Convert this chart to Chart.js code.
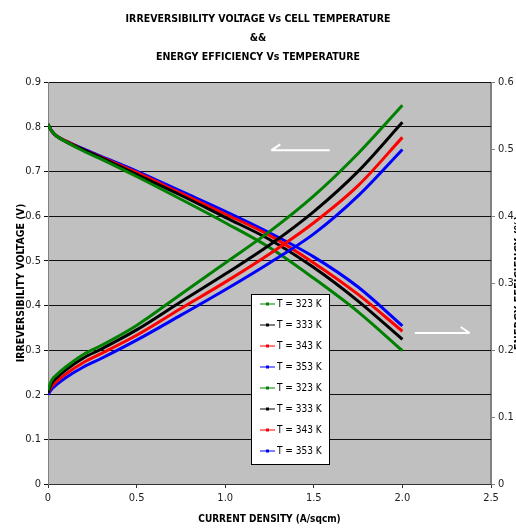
<!DOCTYPE html>
<html>
<head>
<meta charset="utf-8">
<script src="https://cdn.jsdelivr.net/npm/chart.js@4.4.1/dist/chart.umd.min.js"></script>
<style>
  html, body { margin: 0; padding: 0; background: #ffffff; }
  #wrap { width: 516px; height: 529px; position: relative; }
</style>
</head>
<body>
<div id="wrap"><canvas id="chart" width="516" height="529"></canvas></div>
<script>
// Current density values (A/sqcm)
const current = [0, 0.02, 0.05, 0.1, 0.2, 0.3, 0.5, 0.75, 1.0, 1.25, 1.5, 1.75, 2.0];
const tempLabels = ['T = 323 K', 'T = 333 K', 'T = 343 K', 'T = 353 K'];

// Irreversibility voltage (V), left axis
const volt323 = [0.21, 0.232, 0.245, 0.262, 0.29, 0.31, 0.355, 0.425, 0.495, 0.565, 0.645, 0.74, 0.848];
const volt333 = [0.205, 0.225, 0.238, 0.255, 0.282, 0.302, 0.345, 0.408, 0.47, 0.535, 0.61, 0.70, 0.81];
const volt343 = [0.205, 0.218, 0.23, 0.246, 0.272, 0.292, 0.333, 0.393, 0.452, 0.515, 0.585, 0.668, 0.776];
const volt353 = [0.20, 0.212, 0.223, 0.238, 0.262, 0.281, 0.322, 0.378, 0.435, 0.495, 0.56, 0.645, 0.749];

// Energy efficiency, right axis
const eff323 = [0.537, 0.527, 0.519, 0.511, 0.497, 0.485, 0.459, 0.425, 0.39, 0.353, 0.307, 0.257, 0.199];
const eff333 = [0.537, 0.527, 0.519, 0.511, 0.499, 0.487, 0.462, 0.431, 0.398, 0.365, 0.323, 0.273, 0.216];
const eff343 = [0.537, 0.527, 0.519, 0.512, 0.499, 0.488, 0.465, 0.434, 0.403, 0.371, 0.33, 0.283, 0.228];
const eff353 = [0.537, 0.527, 0.519, 0.512, 0.50, 0.489, 0.467, 0.437, 0.407, 0.375, 0.339, 0.294, 0.236];

const colors = ['#008000', '#000000', '#ff0000', '#0000ff'];

// Arrow annotations in data units
const arrows = [
    { x0: 1.26, x1: 1.59, y: 0.747, dir: 'left' },
    { x0: 2.07, x1: 2.38, y: 0.338, dir: 'right' }
];

const FONT = "'Liberation Sans Narrow', 'DejaVu Sans Condensed', 'Liberation Sans', sans-serif";

function toPoints(ys) {
    return current.map((x, i) => ({ x: x, y: ys[i] }));
}

function makeSet(label, ys, color, axis) {
    return {
        label: label,
        data: toPoints(ys),
        borderColor: color,
        backgroundColor: color,
        borderWidth: 3,
        pointRadius: 0,
        cubicInterpolationMode: 'monotone',
        yAxisID: axis
    };
}

const datasets = [
    makeSet(tempLabels[0], volt323, colors[0], 'y'),
    makeSet(tempLabels[1], volt333, colors[1], 'y'),
    makeSet(tempLabels[2], volt343, colors[2], 'y'),
    makeSet(tempLabels[3], volt353, colors[3], 'y'),
    makeSet(tempLabels[0], eff323, colors[0], 'y2'),
    makeSet(tempLabels[1], eff333, colors[1], 'y2'),
    makeSet(tempLabels[2], eff343, colors[2], 'y2'),
    makeSet(tempLabels[3], eff353, colors[3], 'y2')
];

// gray plot area + border
const plotBg = {
    id: 'plotBg',
    beforeDraw(chart) {
        const { ctx, chartArea: a } = chart;
        ctx.save();
        ctx.fillStyle = '#c0c0c0';
        ctx.fillRect(a.left, a.top, a.right - a.left, a.bottom - a.top);
        ctx.strokeStyle = '#808080';
        ctx.lineWidth = 1;
        ctx.strokeRect(a.left + 0.5, a.top + 0.5, a.right - a.left - 1, a.bottom - a.top);
        ctx.restore();
    }
};

// white half-arrows, legend box and clipped right title
const extras = {
    id: 'extras',
    afterDatasetsDraw(chart) {
        const { ctx, scales } = chart;
        ctx.save();
        ctx.strokeStyle = '#ffffff';
        ctx.lineWidth = 2;
        arrows.forEach(a => {
            const x0 = scales.x.getPixelForValue(a.x0);
            const x1 = scales.x.getPixelForValue(a.x1);
            const y = scales.y.getPixelForValue(a.y);
            ctx.beginPath();
            ctx.moveTo(x0, y);
            ctx.lineTo(x1, y);
            if (a.dir === 'left') {
                ctx.moveTo(x0, y);
                ctx.lineTo(x0 + 9, y - 6);
            } else {
                ctx.moveTo(x1, y);
                ctx.lineTo(x1 - 9, y - 6);
            }
            ctx.stroke();
        });

        // legend box
        const bx = 251, by = 294, bw = 78, bh = 170;
        ctx.fillStyle = '#ffffff';
        ctx.fillRect(bx, by, bw, bh);
        ctx.strokeStyle = '#000000';
        ctx.lineWidth = 1;
        ctx.strokeRect(bx + 0.5, by + 0.5, bw, bh);
        ctx.font = '10px ' + FONT;
        ctx.textBaseline = 'middle';
        ctx.textAlign = 'left';
        chart.data.datasets.forEach((ds, i) => {
            const y = by + 10 + i * 21;
            ctx.strokeStyle = ds.borderColor;
            ctx.lineWidth = 1;
            ctx.beginPath();
            ctx.moveTo(bx + 9, y);
            ctx.lineTo(bx + 24, y);
            ctx.stroke();
            ctx.fillStyle = ds.borderColor;
            ctx.fillRect(bx + 15, y - 1.5, 3, 3);
            ctx.fillStyle = '#000000';
            ctx.fillText(ds.label, bx + 26, y);
        });

        // right axis title, partly off the canvas like the original
        const a = chart.chartArea;
        ctx.translate(519, (a.top + a.bottom) / 2);
        ctx.rotate(-Math.PI / 2);
        ctx.font = 'bold 11px ' + FONT;
        ctx.textAlign = 'center';
        ctx.fillStyle = '#000000';
        ctx.fillText('ENERGY EFFICIENCY (%)', 0, 0);
        ctx.restore();
    }
};

const ctx = document.getElementById('chart').getContext('2d');
new Chart(ctx, {
    type: 'line',
    data: { datasets: datasets },
    plugins: [plotBg, extras],
    options: {
        responsive: false,
        animation: false,
        layout: { padding: { left: 0, right: 0, top: 0, bottom: 0 } },
        plugins: {
            legend: { display: false },
            tooltip: { enabled: false },
            title: {
                display: true,
                text: ['IRREVERSIBILITY VOLTAGE Vs CELL TEMPERATURE', '&&', 'ENERGY EFFICIENCY Vs TEMPERATURE'],
                color: '#000000',
                font: { family: FONT, size: 10.5, weight: 'bold', lineHeight: '19px' },
                padding: { top: 10, bottom: 15 }
            }
        },
        scales: {
            x: {
                type: 'linear',
                min: 0,
                max: 2.5,
                ticks: { stepSize: 0.5, color: '#222', font: { family: FONT, size: 11 }, padding: 4, maxRotation: 0 },
                grid: { drawOnChartArea: false, drawTicks: true, tickLength: 4, color: '#333' },
                border: { color: '#333', width: 1 },
                title: {
                    display: true,
                    text: 'CURRENT DENSITY (A/sqcm)',
                    color: '#000',
                    font: { family: FONT, size: 10, weight: 'bold' },
                    padding: { top: 7 }
                },
                afterFit(s) { s.height = 45; }
            },
            y: {
                position: 'left',
                min: 0,
                max: 0.9,
                ticks: { stepSize: 0.1, color: '#222', font: { family: FONT, size: 11 }, padding: 3 },
                grid: { color: '#111', drawTicks: true, tickLength: 4 },
                border: { color: '#808080' },
                title: {
                    display: true,
                    text: 'IRREVERSIBILITY VOLTAGE (V)',
                    color: '#000',
                    font: { family: FONT, size: 10.5, weight: 'bold' },
                    padding: { top: 15, bottom: 0 }
                },
                afterFit(s) { s.width = 48; }
            },
            y2: {
                position: 'right',
                min: 0,
                max: 0.6,
                ticks: { stepSize: 0.1, color: '#222', font: { family: FONT, size: 11 }, padding: 3 },
                grid: { drawOnChartArea: false, drawTicks: true, tickLength: 4, color: '#808080' },
                border: { color: '#808080' },
                afterFit(s) { s.width = 25; }
            }
        }
    }
});
</script>
</body>
</html>
